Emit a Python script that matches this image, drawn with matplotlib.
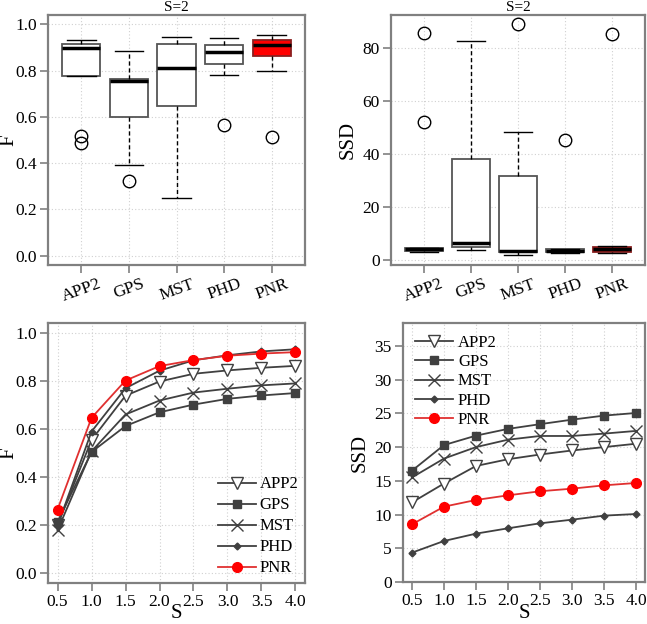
import matplotlib
matplotlib.use("Agg")
import matplotlib.pyplot as plt
import numpy as np

plt.rcParams['font.family'] = ['Liberation Serif', 'DejaVu Serif']

methods = ["APP2", "GPS", "MST", "PHD", "PNR"]

# Boxplot stats at S=2: F
f_whislo = [0.777, 0.394, 0.249, 0.782, 0.799]
f_q1     = [0.777, 0.598, 0.645, 0.830, 0.863]
f_med    = [0.898, 0.757, 0.812, 0.881, 0.912]
f_q3     = [0.915, 0.764, 0.914, 0.912, 0.930]
f_whishi = [0.934, 0.884, 0.945, 0.941, 0.954]
f_fliers = [[0.517, 0.485], [0.323], [], [0.563], [0.512]]

# Boxplot stats at S=2: SSD
s_whislo = [2.8, 3.55, 1.66, 2.6, 2.65]
s_q1     = [3.2, 4.8, 3.0, 2.8, 3.0]
s_med    = [3.9, 6.2, 3.4, 3.4, 4.05]
s_q3     = [4.5, 38.2, 31.8, 3.9, 4.9]
s_whishi = [4.6, 82.7, 48.2, 4.1, 5.3]
s_fliers = [[85.7, 52.1], [], [89.1], [45.2], [85.3]]

# Curves over S
S = [0.5, 1.0, 1.5, 2.0, 2.5, 3.0, 3.5, 4.0]
F_APP2 = [0.200, 0.554, 0.738, 0.797, 0.829, 0.843, 0.854, 0.862]
F_GPS  = [0.214, 0.504, 0.612, 0.669, 0.701, 0.725, 0.739, 0.749]
F_MST  = [0.179, 0.507, 0.660, 0.718, 0.751, 0.767, 0.781, 0.789]
F_PHD  = [0.198, 0.589, 0.769, 0.842, 0.885, 0.906, 0.922, 0.931]
F_PNR  = [0.265, 0.646, 0.801, 0.861, 0.886, 0.904, 0.913, 0.919]

SSD_APP2 = [11.8, 14.6, 17.2, 18.2, 18.9, 19.5, 20.0, 20.5]
SSD_GPS  = [16.5, 20.3, 21.7, 22.7, 23.4, 24.07, 24.67, 25.06]
SSD_MST  = [15.5, 18.3, 20.0, 21.1, 21.65, 21.65, 22.0, 22.4]
SSD_PHD  = [4.35, 6.08, 7.17, 7.96, 8.7, 9.24, 9.84, 10.08]
SSD_PNR  = [8.55, 11.17, 12.16, 12.85, 13.45, 13.84, 14.33, 14.68]

fig = plt.figure(figsize=(6.47, 6.24), dpi=100)
W, H = 647.0, 624.0
def ax_at(x0, y0, x1, y1):
    return fig.add_axes([x0 / W, 1 - y1 / H, (x1 - x0) / W, (y1 - y0) / H])

ax_tl = ax_at(48, 15, 305, 265)
ax_tr = ax_at(391, 15, 645, 265)
ax_bl = ax_at(48, 323, 305, 583)
ax_br = ax_at(403, 323, 645, 582)

frame_col = "#808080"
grid_kw = dict(color="#d0d0d0", linestyle=(0, (1, 2)), linewidth=0.8)
TICK_FS = 12.5

def style(ax):
    for sp in ax.spines.values():
        sp.set_color(frame_col)
        sp.set_linewidth(1.6)
    ax.tick_params(direction="out", length=6, width=1.2, color=frame_col,
                   labelsize=TICK_FS, pad=2)
    ax.set_axisbelow(True)
    ax.grid(True, **grid_kw)

def boxes(ax, whislo, q1, med, q3, whishi, fliers):
    stats = []
    for i, m in enumerate(methods):
        stats.append(dict(label=m, whislo=whislo[i], q1=q1[i], med=med[i],
                          q3=q3[i], whishi=whishi[i], fliers=fliers[i]))
    bp = ax.bxp(stats, positions=range(1, 6), widths=0.8, patch_artist=True,
                capwidths=0.6,
                boxprops=dict(facecolor="white", edgecolor="#555555", linewidth=1.3),
                medianprops=dict(color="black", linewidth=2.5),
                whiskerprops=dict(color="black", linestyle=(0, (3, 2)), linewidth=1.0),
                capprops=dict(color="black", linewidth=1.0),
                flierprops=dict(marker="o", markerfacecolor="none",
                                markeredgecolor="black", markersize=9,
                                markeredgewidth=1.0))
    bp["boxes"][4].set_facecolor("#ff0000")
    bp["boxes"][4].set_edgecolor("#8b2020")
    ax.set_xlim(0.3, 5.7)
    ax.set_xticks(range(1, 6))
    ax.set_xticklabels(methods, rotation=20, ha="center")
    ax.set_title("S=2", fontsize=11, pad=3)

def place_ylabel(ax, text, x_px, ax_x0, ax_w):
    ax.set_ylabel(text, fontsize=15, va="center")
    ax.yaxis.set_label_coords((x_px - ax_x0) / ax_w, 0.5)

boxes(ax_tl, f_whislo, f_q1, f_med, f_q3, f_whishi, f_fliers)
ax_tl.set_ylim(-0.04, 1.04)
ax_tl.set_yticks([0.0, 0.2, 0.4, 0.6, 0.8, 1.0])
ax_tl.set_yticklabels(["0.0", "0.2", "0.4", "0.6", "0.8", "1.0"])
place_ylabel(ax_tl, "F", 9, 48, 257)
style(ax_tl)

boxes(ax_tr, s_whislo, s_q1, s_med, s_q3, s_whishi, s_fliers)
ax_tr.set_ylim(-2.0, 92.6)
ax_tr.set_yticks([0, 20, 40, 60, 80])
place_ylabel(ax_tr, "SSD", 348, 391, 254)
style(ax_tr)

line_col = "#404040"
def curves(ax, data, ax_y1, ax_h):
    specs = [
        ("APP2", dict(marker="v", markerfacecolor="white", markeredgecolor=line_col, markersize=8, color=line_col)),
        ("GPS", dict(marker="s", markerfacecolor="#404040", markeredgecolor="#404040", markersize=5.5, color=line_col)),
        ("MST", dict(marker="x", markeredgecolor=line_col, markersize=8, markeredgewidth=1.0, color=line_col)),
        ("PHD", dict(marker="D", markerfacecolor=line_col, markeredgecolor=line_col, markersize=3.5, color=line_col)),
        ("PNR", dict(marker="o", markerfacecolor="#ff0000", markeredgecolor="#ff0000", markersize=7, color="#e03030")),
    ]
    for (name, kw), y in zip(specs, data):
        ax.plot(S, y, linewidth=1.3, label=name, **kw)
    ax.set_xlim(0.36, 4.14)
    ax.set_xticks(S)
    ax.set_xticklabels(["%.1f" % s for s in S])
    ax.set_xlabel("S", fontsize=15, va="center")
    ax.xaxis.set_label_coords(0.5, -(614 - ax_y1) / ax_h)

curves(ax_bl, [F_APP2, F_GPS, F_MST, F_PHD, F_PNR], 583, 260)
ax_bl.set_ylim(-0.04, 1.04)
ax_bl.set_yticks([0.0, 0.2, 0.4, 0.6, 0.8, 1.0])
ax_bl.set_yticklabels(["0.0", "0.2", "0.4", "0.6", "0.8", "1.0"])
place_ylabel(ax_bl, "F", 9, 48, 257)
style(ax_bl)
ax_bl.legend(loc="lower right", frameon=False, fontsize=12, handlelength=2.3,
             labelspacing=0.3, handletextpad=0.2, borderaxespad=0.2,
             borderpad=0.2)

curves(ax_br, [SSD_APP2, SSD_GPS, SSD_MST, SSD_PHD, SSD_PNR], 582, 259)
ax_br.set_ylim(0, 38.4)
ax_br.set_yticks([0, 5, 10, 15, 20, 25, 30, 35])
place_ylabel(ax_br, "SSD", 360, 403, 242)
style(ax_br)
ax_br.legend(loc="upper left", frameon=False, fontsize=12, handlelength=2.3,
             labelspacing=0.2, handletextpad=0.3, borderaxespad=0.3)

fig.savefig("out.png", dpi=100)
